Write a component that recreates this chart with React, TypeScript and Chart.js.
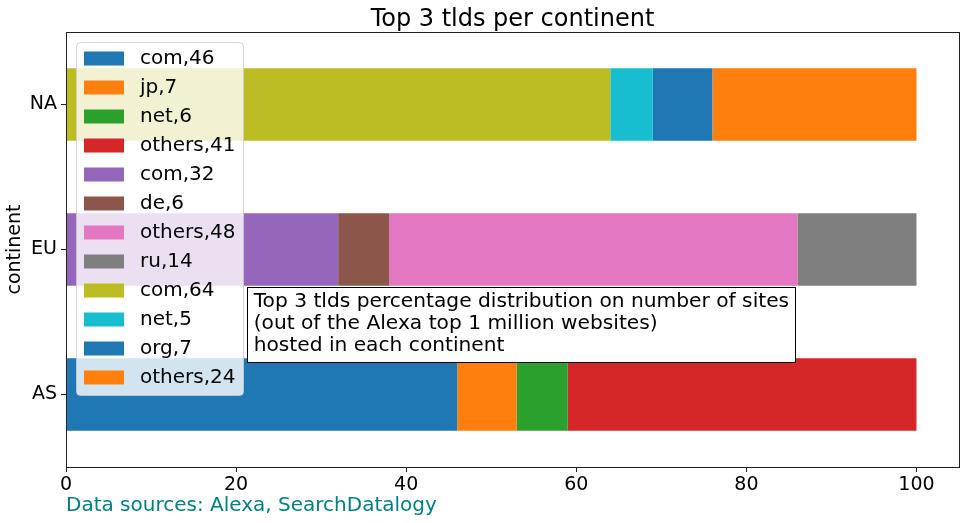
import React, { useEffect, useRef } from 'react';
import { Chart, registerables } from 'chart.js';

Chart.register(...registerables);

// ---- data ----
const continents = ['NA', 'EU', 'AS'];
const asTlds = ['com', 'jp', 'net', 'others'];
const asValues = [46, 7, 6, 41];
const euTlds = ['com', 'de', 'others', 'ru'];
const euValues = [32, 6, 48, 14];
const naTlds = ['com', 'net', 'org', 'others'];
const naValues = [64, 5, 7, 24];
const xTickValues = [0, 20, 40, 60, 80, 100];
const xMax = 105;

const palette = [
  '#1f77b4', '#ff7f0e', '#2ca02c', '#d62728', '#9467bd', '#8c564b',
  '#e377c2', '#7f7f7f', '#bcbd22', '#17becf', '#1f77b4', '#ff7f0e',
];

const titleText = 'Top 3 tlds per continent';
const yAxisTitle = 'continent';
const sourceText = 'Data sources: Alexa, SearchDatalogy';
const annotationLines = [
  'Top 3 tlds percentage distribution on number of sites',
  '(out of the Alexa top 1 million websites)',
  'hosted in each continent',
];
// annotation anchor in data coordinates (x value, category index)
const annotationX = 21.3;
const annotationY = 1.262;

const FONT = '"DejaVu Sans", sans-serif';

function buildDatasets() {
  const groups = [
    { cont: 'AS', tlds: asTlds, values: asValues },
    { cont: 'EU', tlds: euTlds, values: euValues },
    { cont: 'NA', tlds: naTlds, values: naValues },
  ];
  const ds: any[] = [];
  let c = 0;
  groups.forEach((g) => {
    const idx = continents.indexOf(g.cont);
    g.tlds.forEach((t, i) => {
      const data = continents.map((_, k) => (k === idx ? g.values[i] : null));
      ds.push({
        label: `${t},${g.values[i]}`,
        data,
        backgroundColor: palette[c],
        borderWidth: 0,
        stack: 's',
        categoryPercentage: 0.5,
        barPercentage: 1.0,
      });
      c++;
    });
  });
  return ds;
}

const overlayPlugin = {
  id: 'overlay',
  afterDraw(chart: any) {
    const ctx = chart.ctx as CanvasRenderingContext2D;
    const area = chart.chartArea;
    const xs = chart.scales.x;
    const ys = chart.scales.y;
    ctx.save();

    // frame (spines)
    ctx.strokeStyle = '#222';
    ctx.lineWidth = 1;
    ctx.strokeRect(Math.round(area.left) + 0.5, Math.round(area.top) + 0.5,
      Math.round(area.right - area.left), Math.round(area.bottom - area.top));

    // title
    ctx.fillStyle = '#000';
    ctx.font = `24px ${FONT}`;
    ctx.textAlign = 'center';
    ctx.textBaseline = 'alphabetic';
    ctx.fillText(titleText, (area.left + area.right) / 2, 26);

    // source text
    ctx.fillStyle = '#008080';
    ctx.font = `20px ${FONT}`;
    ctx.textAlign = 'left';
    ctx.fillText(sourceText, area.left, 511);

    // annotation box
    ctx.font = `20.2px ${FONT}`;
    const bx = xs.getPixelForValue(annotationX);
    const by = ys.getPixelForValue(annotationY);
    let maxW = 0;
    annotationLines.forEach((l) => { maxW = Math.max(maxW, ctx.measureText(l).width); });
    const padX = 6.5;
    const lineH = 22;
    const bw = maxW + padX * 2;
    const bh = 75;
    ctx.fillStyle = '#fff';
    ctx.fillRect(bx, by, bw, bh);
    ctx.strokeStyle = '#000';
    ctx.lineWidth = 1;
    ctx.strokeRect(Math.round(bx) + 0.5, Math.round(by) + 0.5, Math.round(bw), Math.round(bh));
    ctx.fillStyle = '#000';
    ctx.textBaseline = 'alphabetic';
    annotationLines.forEach((l, i) => {
      ctx.fillText(l, bx + padX, by + 20 + i * lineH);
    });

    // legend
    const items = chart.data.datasets;
    const lx = area.left + 10.5;
    const ly = area.top + 10.5;
    const lw = 167;
    const rowH = 29;
    const lh = 353;
    ctx.beginPath();
    const r = 4;
    ctx.moveTo(lx + r, ly);
    ctx.lineTo(lx + lw - r, ly);
    ctx.quadraticCurveTo(lx + lw, ly, lx + lw, ly + r);
    ctx.lineTo(lx + lw, ly + lh - r);
    ctx.quadraticCurveTo(lx + lw, ly + lh, lx + lw - r, ly + lh);
    ctx.lineTo(lx + r, ly + lh);
    ctx.quadraticCurveTo(lx, ly + lh, lx, ly + lh - r);
    ctx.lineTo(lx, ly + r);
    ctx.quadraticCurveTo(lx, ly, lx + r, ly);
    ctx.closePath();
    ctx.fillStyle = 'rgba(255,255,255,0.8)';
    ctx.fill();
    ctx.strokeStyle = 'rgba(204,204,204,0.8)';
    ctx.stroke();
    ctx.font = `20px ${FONT}`;
    ctx.textBaseline = 'middle';
    ctx.textAlign = 'left';
    items.forEach((d: any, i: number) => {
      const cy = ly + 16 + i * rowH;
      ctx.fillStyle = d.backgroundColor;
      ctx.fillRect(lx + 7.5, cy - 7, 40, 14);
      ctx.fillStyle = '#000';
      ctx.fillText(d.label, lx + 63.5, cy);
    });

    ctx.restore();
  },
};

export default function App() {
  const ref = useRef<HTMLCanvasElement | null>(null);
  useEffect(() => {
    document.body.style.margin = '0';
    const canvas = ref.current!;
    const chart = new Chart(canvas, {
      type: 'bar',
      data: { labels: continents, datasets: buildDatasets() },
      options: {
        indexAxis: 'y',
        animation: false,
        responsive: false,
        devicePixelRatio: 1,
        layout: { padding: { top: 32, right: 10, left: 0, bottom: 0 } },
        plugins: {
          legend: { display: false },
          title: { display: false },
          tooltip: { enabled: false },
        },
        scales: {
          x: {
            type: 'linear',
            stacked: true,
            min: 0,
            max: xMax,
            afterFit: (s: any) => { s.height = 56; },
            afterBuildTicks: (s: any) => { s.ticks = xTickValues.map((v) => ({ value: v })); },
            ticks: {
              color: '#000',
              font: { family: FONT, size: 19 },
              padding: 2,
              maxRotation: 0,
              includeBounds: false,
            },
            grid: {
              drawOnChartArea: false,
              drawTicks: true,
              tickLength: 5,
              tickColor: '#222',
              color: '#222',
            },
            border: { display: true, color: '#222' },
          },
          y: {
            type: 'category',
            stacked: true,
            offset: true,
            afterFit: (s: any) => { s.width = 66; },
            ticks: {
              color: '#000',
              font: { family: FONT, size: 19 },
              padding: 4,
            },
            grid: {
              offset: false,
              drawOnChartArea: false,
              drawTicks: true,
              tickLength: 5,
              tickColor: '#222',
              color: '#222',
            },
            border: { display: true, color: '#222' },
            title: {
              display: true,
              text: yAxisTitle,
              color: '#000',
              font: { family: FONT, size: 19 },
              padding: { top: 4, bottom: 0 },
            },
          },
        },
      },
      plugins: [overlayPlugin],
    });
    return () => chart.destroy();
  }, []);
  return (
    <div style={{ position: 'relative', width: 969, height: 523 }}>
      <canvas ref={ref} width={969} height={523} />
    </div>
  );
}
